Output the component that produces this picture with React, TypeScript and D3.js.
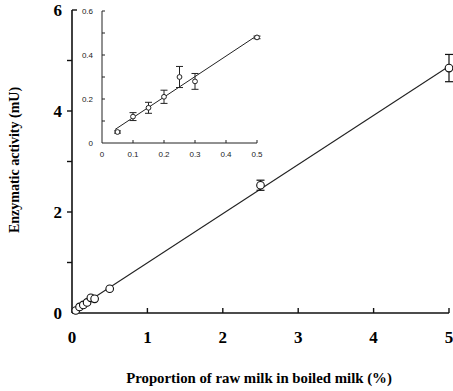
import { useEffect, useRef } from "react";
import * as d3 from "d3";

// proportion of raw milk (%) and enzymatic activity (mU)
const proportions = [0.05, 0.1, 0.15, 0.2, 0.25, 0.3, 0.5, 2.5, 5];
const activity = [0.05, 0.12, 0.16, 0.21, 0.3, 0.28, 0.48, 2.53, 4.85];
const activityErr = [0.005, 0.018, 0.025, 0.03, 0.048, 0.036, 0.006, 0.1, 0.27];

const mainXTicks = [0, 1, 2, 3, 4, 5];
const mainYTicks = [0, 1, 2, 3, 4, 5, 6];
const mainYLabels = [0, 2, 4, 6];
const insetXTicks = [0, 0.1, 0.2, 0.3, 0.4, 0.5];
const insetYTicks = [0, 0.1, 0.2, 0.3, 0.4, 0.5, 0.6];
const insetYLabels = [0, 0.2, 0.4, 0.6];

const W = 453;
const H = 391;

function fit(xs: number[], ys: number[]) {
  const mx = d3.mean(xs)!;
  const my = d3.mean(ys)!;
  let sxy = 0;
  let sxx = 0;
  xs.forEach((x, i) => {
    sxy += (x - mx) * (ys[i] - my);
    sxx += (x - mx) * (x - mx);
  });
  const slope = sxy / sxx;
  return { slope, intercept: my - slope * mx };
}

export default function App() {
  const ref = useRef<SVGSVGElement>(null);

  useEffect(() => {
    const svg = d3.select(ref.current);
    svg.selectAll("*").remove();

    const serif = "'Liberation Serif', 'DejaVu Serif', serif";
    const sans = "'Liberation Sans', Arial, sans-serif";

    // ---- main chart ----
    const x = d3.scaleLinear().domain([0, 5]).range([72, 449]);
    const y = d3.scaleLinear().domain([0, 6]).range([313, 10]);

    const main = svg.append("g");

    main
      .append("line")
      .attr("x1", x(0))
      .attr("x2", x(5))
      .attr("y1", y(0))
      .attr("y2", y(0))
      .attr("stroke", "#111")
      .attr("stroke-width", 1.6);
    main
      .append("line")
      .attr("x1", x(0))
      .attr("x2", x(0))
      .attr("y1", y(0))
      .attr("y2", y(6))
      .attr("stroke", "#111")
      .attr("stroke-width", 1.6);

    main
      .selectAll(".xt")
      .data(mainXTicks.slice(1))
      .enter()
      .append("line")
      .attr("x1", (d) => x(d))
      .attr("x2", (d) => x(d))
      .attr("y1", y(0))
      .attr("y2", y(0) - 5)
      .attr("stroke", "#111")
      .attr("stroke-width", 1.4);

    main
      .selectAll(".yt")
      .data(mainYTicks.slice(1))
      .enter()
      .append("line")
      .attr("x1", x(0))
      .attr("x2", (d) => (d === 6 ? x(0) + 5 : x(0) - 5))
      .attr("y1", (d) => y(d))
      .attr("y2", (d) => y(d))
      .attr("stroke", "#111")
      .attr("stroke-width", 1.4);

    main
      .selectAll(".xl")
      .data(mainXTicks)
      .enter()
      .append("text")
      .attr("x", (d) => x(d))
      .attr("y", 343)
      .attr("text-anchor", "middle")
      .style("font-family", serif)
      .style("font-weight", "bold")
      .style("font-size", "17px")
      .text((d) => d);

    main
      .selectAll(".yl")
      .data(mainYLabels)
      .enter()
      .append("text")
      .attr("x", 62)
      .attr("y", (d) => y(d) + 6)
      .attr("text-anchor", "end")
      .style("font-family", serif)
      .style("font-weight", "bold")
      .style("font-size", "17px")
      .text((d) => d);

    main
      .append("text")
      .attr("x", 259)
      .attr("y", 383)
      .attr("text-anchor", "middle")
      .style("font-family", serif)
      .style("font-weight", "bold")
      .style("font-size", "14.8px")
      .text("Proportion of raw milk in boiled milk (%)");

    main
      .append("text")
      .attr("transform", "translate(19,160) rotate(-90)")
      .attr("text-anchor", "middle")
      .style("font-family", serif)
      .style("font-weight", "bold")
      .style("font-size", "14px")
      .text("Enzymatic activity (mU)");

    const mf = fit(proportions, activity);
    main
      .append("line")
      .attr("x1", x(0.02))
      .attr("y1", y(mf.intercept + mf.slope * 0.02))
      .attr("x2", x(5))
      .attr("y2", y(mf.intercept + mf.slope * 5))
      .attr("stroke", "#222")
      .attr("stroke-width", 1.1);

    const mPts = main
      .selectAll(".mp")
      .data(proportions)
      .enter()
      .append("g");
    mPts.each(function (d, k) {
      const e = activityErr[k];
      if (e * 50 <= 3) return;
      const g = d3.select(this);
      g.append("line")
        .attr("x1", x(d))
        .attr("x2", x(d))
        .attr("y1", y(activity[k] - e))
        .attr("y2", y(activity[k] + e))
        .attr("stroke", "#111")
        .attr("stroke-width", 1.2);
      [activity[k] - e, activity[k] + e].forEach((v) =>
        g
          .append("line")
          .attr("x1", x(d) - 4)
          .attr("x2", x(d) + 4)
          .attr("y1", y(v))
          .attr("y2", y(v))
          .attr("stroke", "#111")
          .attr("stroke-width", 1.2)
      );
    });
    mPts
      .append("circle")
      .attr("cx", (d) => x(d))
      .attr("cy", (_, i) => y(activity[i]))
      .attr("r", 3.8)
      .attr("fill", "white")
      .attr("stroke", "#111")
      .attr("stroke-width", 1.1);

    // ---- inset ----
    const ix = d3.scaleLinear().domain([0, 0.5]).range([102, 257]);
    const iy = d3.scaleLinear().domain([0, 0.6]).range([143, 11]);
    const inset = svg.append("g");

    const insetX = proportions.filter((d) => d <= 0.5);
    const insetY = activity.slice(0, insetX.length);
    const insetE = activityErr.slice(0, insetX.length);

    inset
      .append("path")
      .attr("d", `M${ix(0)},${iy(0.6)}V${iy(0)}H${ix(0.5)}`)
      .attr("fill", "none")
      .attr("stroke", "#222")
      .attr("stroke-width", 1);

    inset
      .selectAll(".ixt")
      .data(insetXTicks.slice(1))
      .enter()
      .append("line")
      .attr("x1", (d) => ix(d))
      .attr("x2", (d) => ix(d))
      .attr("y1", iy(0))
      .attr("y2", iy(0) - 3)
      .attr("stroke", "#222");
    inset
      .selectAll(".iyt")
      .data(insetYTicks.slice(1))
      .enter()
      .append("line")
      .attr("x1", ix(0))
      .attr("x2", ix(0) + 3)
      .attr("y1", (d) => iy(d))
      .attr("y2", (d) => iy(d))
      .attr("stroke", "#222");

    inset
      .selectAll(".ixl")
      .data(insetXTicks)
      .enter()
      .append("text")
      .attr("x", (d) => ix(d))
      .attr("y", 157)
      .attr("text-anchor", "middle")
      .style("font-family", sans)
      .style("font-size", "8px")
      .attr("fill", "#222")
      .text((d) => d);
    inset
      .selectAll(".iyl")
      .data(insetYLabels)
      .enter()
      .append("text")
      .attr("x", 93)
      .attr("y", (d) => iy(d) + 3)
      .attr("text-anchor", "end")
      .style("font-family", sans)
      .style("font-size", "8px")
      .attr("fill", "#222")
      .text((d) => d);

    const f = fit(insetX, insetY);
    inset
      .append("line")
      .attr("x1", ix(0.042))
      .attr("y1", iy(f.intercept + f.slope * 0.042))
      .attr("x2", ix(0.5))
      .attr("y2", iy(f.intercept + f.slope * 0.5))
      .attr("stroke", "#222")
      .attr("stroke-width", 1);

    const iPts = inset
      .selectAll(".ip")
      .data(insetX)
      .enter()
      .append("g");
    iPts.each(function (d, i) {
      const g = d3.select(this);
      const e = insetE[i];
      g.append("line")
        .attr("x1", ix(d))
        .attr("x2", ix(d))
        .attr("y1", iy(insetY[i] - e))
        .attr("y2", iy(insetY[i] + e))
        .attr("stroke", "#222")
        .attr("stroke-width", 1);
      [insetY[i] - e, insetY[i] + e].forEach((v) =>
        g
          .append("line")
          .attr("x1", ix(d) - 3.5)
          .attr("x2", ix(d) + 3.5)
          .attr("y1", iy(v))
          .attr("y2", iy(v))
          .attr("stroke", "#222")
          .attr("stroke-width", 1)
      );
    });
    iPts
      .append("circle")
      .attr("cx", (d) => ix(d))
      .attr("cy", (_, i) => iy(insetY[i]))
      .attr("r", 2.4)
      .attr("fill", "white")
      .attr("stroke", "#222")
      .attr("stroke-width", 1);
  }, []);

  return (
    <svg
      ref={ref}
      width={W}
      height={H}
      style={{ position: "absolute", left: 0, top: 0, background: "white" }}
    />
  );
}
